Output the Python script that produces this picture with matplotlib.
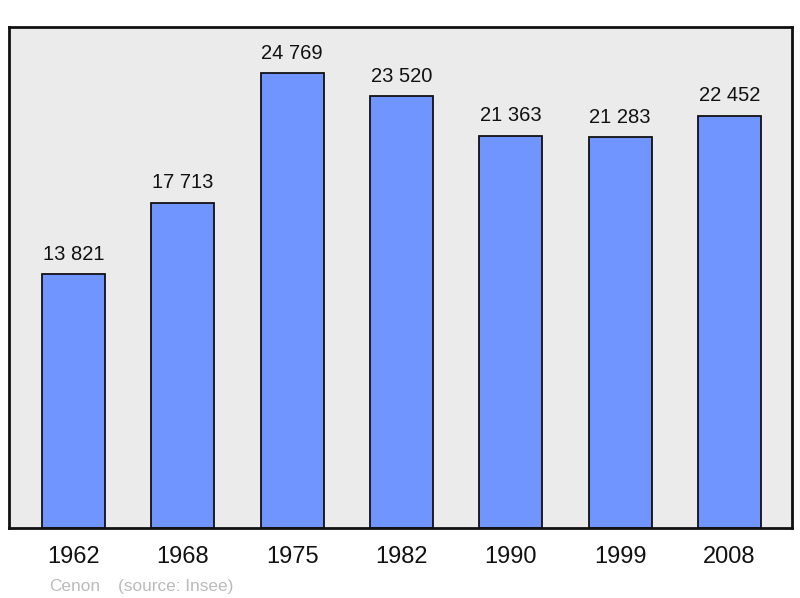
import matplotlib.pyplot as plt

plt.rcParams['font.family'] = ['Liberation Sans', 'DejaVu Sans']

years = ['1962', '1968', '1975', '1982', '1990', '1999', '2008']
population = [13821, 17713, 24769, 23520, 21363, 21283, 22452]

fig = plt.figure(figsize=(8, 5.98), dpi=100)
# axes box in pixels: x 9..792, y 27..528
ax = fig.add_axes([9 / 800, 1 - 528 / 598, 783 / 800, 501 / 598])
ax.set_facecolor('#ebebeb')
for s in ax.spines.values():
    s.set_linewidth(2)
    s.set_color('#111111')

pos = list(range(len(years)))
ax.bar(pos, population, width=0.576, color='#7095ff', edgecolor='#111111',
       linewidth=1.3, zorder=2)

for x, v in zip(pos, population):
    lbl = f'{v:,}'.replace(',', ' ')
    ax.annotate(lbl, (x, v), xytext=(0, 7.5), textcoords='offset points',
                ha='center', va='bottom', fontsize=14.5, color='#111111')

ax.set_xlim(-0.59, 6.572)
ax.set_ylim(0, 27273)
ax.set_yticks([])
ax.set_xticks(pos)
ax.set_xticklabels(years, fontsize=17, color='#111111')
ax.tick_params(axis='x', length=0, pad=13)

fig.text(49 / 800, 1 - 591 / 598, 'Cenon', fontsize=12.4, color='#bbbbbb',
         ha='left', va='baseline')
fig.text(118 / 800, 1 - 591 / 598, '(source: Insee)', fontsize=12.4,
         color='#bbbbbb', ha='left', va='baseline')

fig.savefig('out.png', dpi=100)
